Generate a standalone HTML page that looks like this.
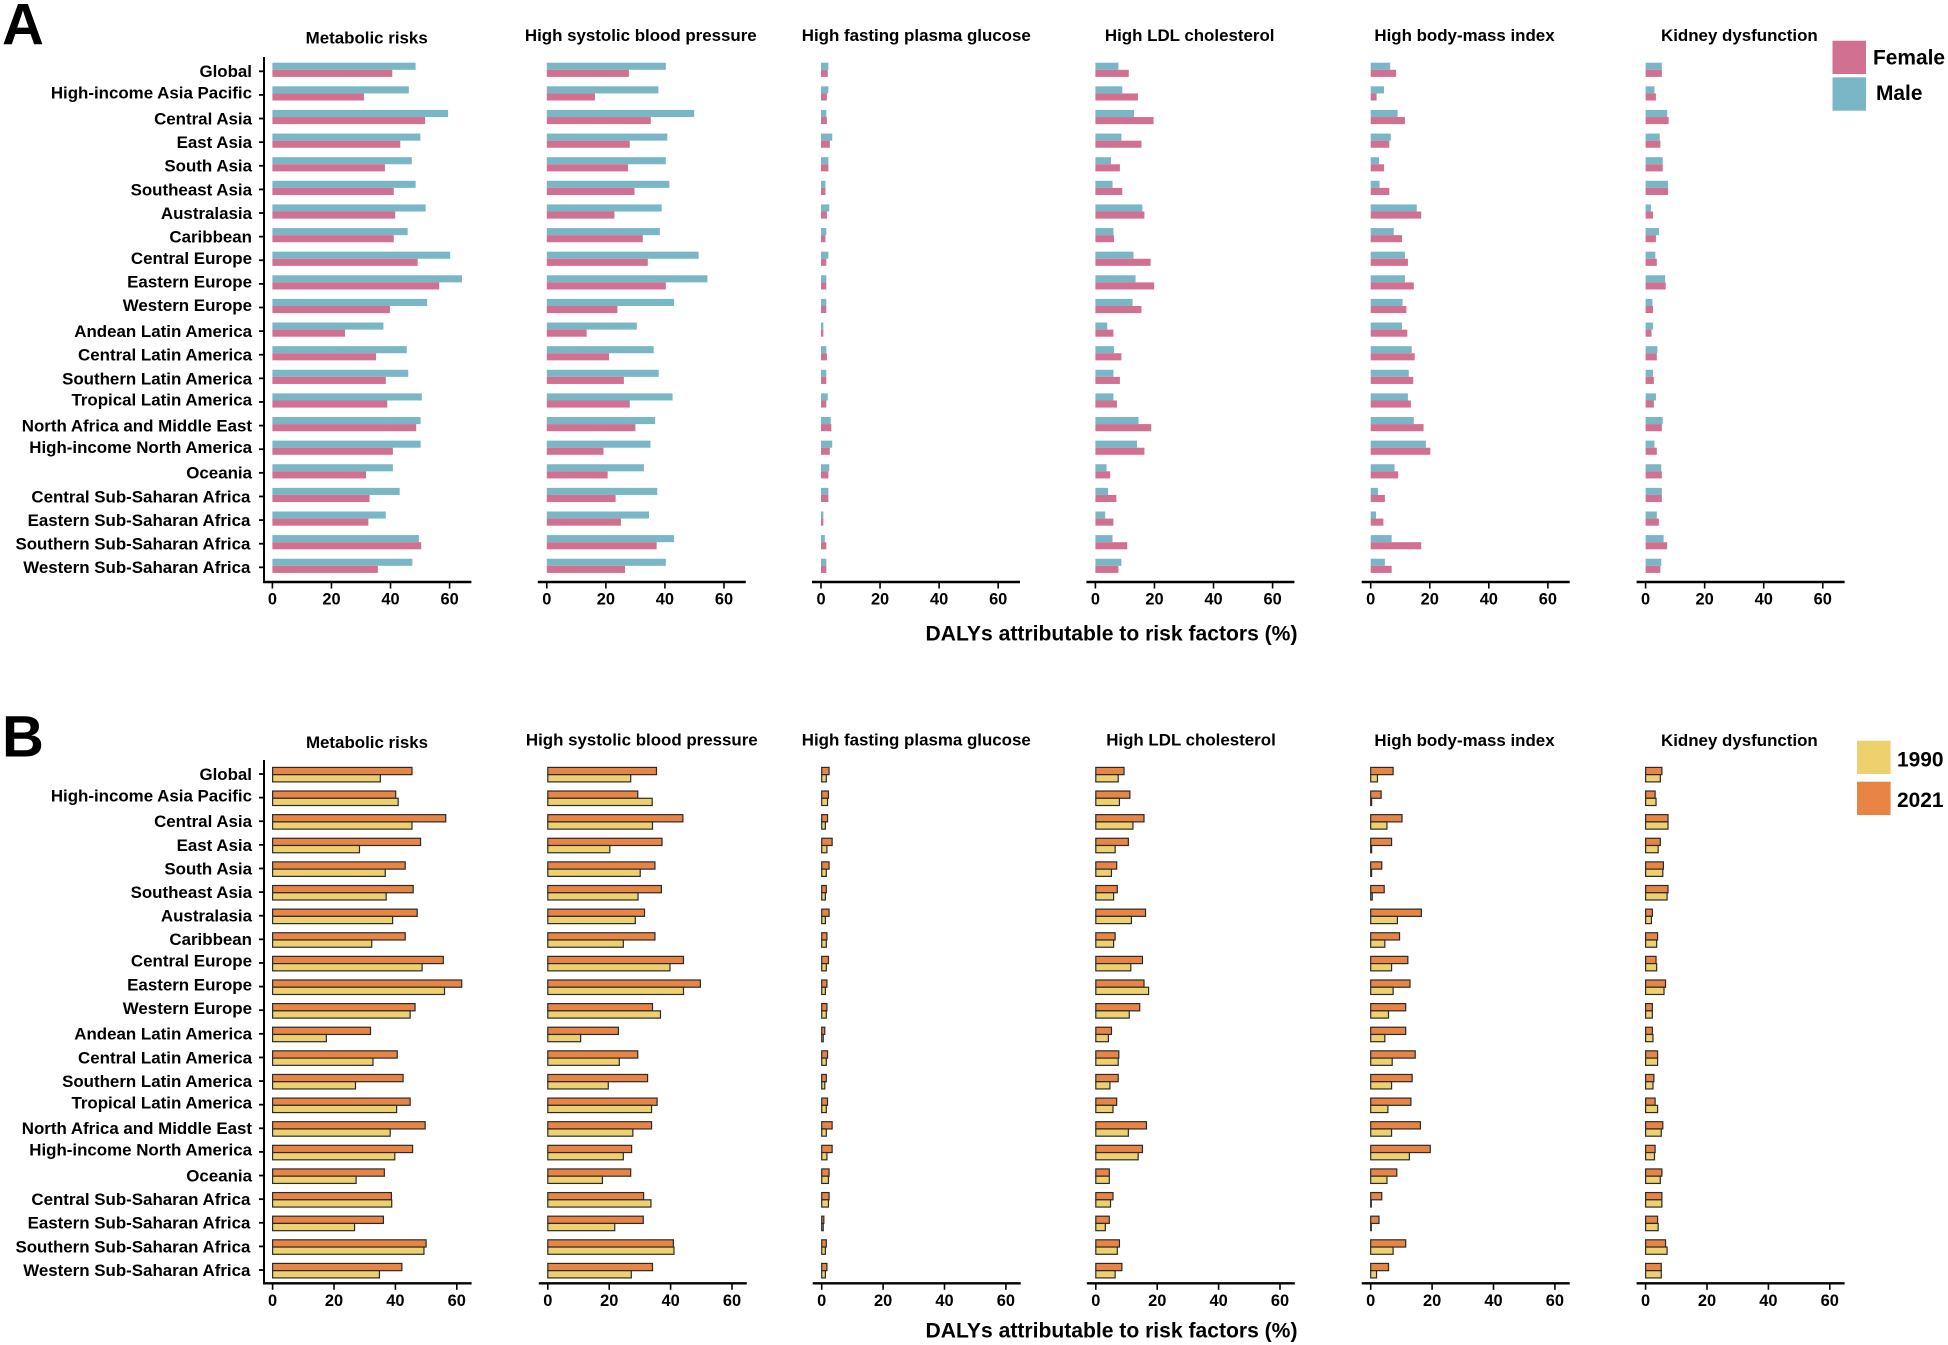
<!DOCTYPE html>
<html lang="en">
<head>
<meta charset="utf-8">
<title>DALYs attributable to risk factors</title>
<style>
html,body{margin:0;padding:0;background:#fff;}
svg{display:block;}
text{font-family:"Liberation Sans",Arial,sans-serif;font-weight:bold;fill:#000;}
.cat,.ptitle{font-size:16.9px;}
.tick{font-size:16.4px;}
.axt{font-size:21.1px;}
.leg{font-size:20.9px;}
.big{font-size:58px;}
</style>
</head>
<body>
<svg id="chart" xmlns="http://www.w3.org/2000/svg" width="1948" height="1345" viewBox="0 0 1948 1345">
  <rect x="0" y="0" width="1948" height="1345" fill="#fff"/>
  <text class="big" x="2" y="44.5">A</text>
  <text class="big" x="2" y="756.7">B</text>

  <g>
    <rect x="1832.5" y="40.7" width="33.5" height="33.3" fill="#D27091"/>
    <text class="leg" x="1873" y="64.3">Female</text>
    <rect x="1832.5" y="77.3" width="33.5" height="33.4" fill="#7AB7C6"/>
    <text class="leg" x="1876" y="100">Male</text>
  </g>
  <g>
    <rect x="1857" y="740.7" width="33.6" height="33.3" fill="#EDD16F"/>
    <text class="leg" x="1897" y="766.5">1990</text>
    <rect x="1857" y="781.7" width="33.6" height="33.3" fill="#E88444"/>
    <text class="leg" x="1897" y="807">2021</text>
  </g>

  <text class="axt" x="1111.5" y="640.6" text-anchor="middle">DALYs attributable to risk factors (%)</text>
  <text class="axt" x="1111.5" y="1337.3" text-anchor="middle">DALYs attributable to risk factors (%)</text>
</svg>

<script>
const categories = ["Global","High-income Asia Pacific","Central Asia","East Asia","South Asia","Southeast Asia","Australasia","Caribbean","Central Europe","Eastern Europe","Western Europe","Andean Latin America","Central Latin America","Southern Latin America","Tropical Latin America","North Africa and Middle East","High-income North America","Oceania","Central Sub-Saharan Africa","Eastern Sub-Saharan Africa","Southern Sub-Saharan Africa","Western Sub-Saharan Africa"];
const riskFactors = ["Metabolic risks","High systolic blood pressure","High fasting plasma glucose","High LDL cholesterol","High body-mass index","Kidney dysfunction"];
const xTickLabels = [0,20,40,60];

/* Panel A: by sex */
const maleMetabolic = [48.5,46.2,59.5,50.1,47.2,48.5,51.9,45.8,60.2,64.2,52.4,37.6,45.5,46,50.6,50.2,50.2,40.8,43.1,38.4,49.6,47.4];
const femaleMetabolic = [40.6,31,51.7,43.3,38.1,41.1,41.6,41.1,49.2,56.5,39.8,24.6,35.1,38.4,38.9,48.7,40.8,31.7,32.9,32.5,50.4,35.7];
const maleSystolic = [40.3,37.8,49.9,40.8,40.3,41.5,38.9,38.3,51.4,54.4,43.1,30.5,36.2,37.9,42.6,36.7,35.1,32.9,37.4,34.6,43.1,40.3];
const femaleSystolic = [27.8,16.3,35.2,28.1,27.5,29.7,22.9,32.5,34.2,40.3,23.9,13.5,21.1,26.1,28.1,30,19.2,20.6,23.3,25.1,37.2,26.5];
const maleGlucose = [2.5,2.5,1.8,3.8,2.5,1.5,2.8,1.8,2.5,1.8,1.8,0.8,1.8,1.8,2.3,3.3,3.8,2.8,2.5,0.8,1.3,1.8];
const femaleGlucose = [2.3,2,2,3,2.5,1.5,2,1.5,1.8,1.8,1.8,0.8,2,1.8,1.8,3.5,3,2.5,2.5,0.8,1.8,1.8];
const maleLdl = [7.8,9.1,13.1,8.8,5.3,5.8,15.9,6.1,12.9,13.6,12.6,4,6.3,6.1,6.1,14.6,14.1,3.8,4.3,3.3,5.8,8.8];
const femaleLdl = [11.3,14.4,19.7,15.6,8.3,9.1,16.6,6.3,18.7,19.9,15.6,6.1,8.8,8.3,7.3,18.9,16.6,5,7.1,6.1,10.8,7.8];
const maleBmi = [6.6,4.5,9.1,6.8,2.8,3,15.6,7.8,11.6,11.6,10.8,10.6,13.9,12.9,12.6,14.6,18.7,8.1,2.5,1.8,7.1,4.8];
const femaleBmi = [8.6,2,11.6,6.3,4.5,6.3,17.1,10.6,12.6,14.6,12.1,12.4,14.9,14.4,13.6,17.9,20.2,9.3,4.8,4.3,17.1,7.1];
const maleKidney = [5.5,3,7.3,4.8,5.8,7.6,1.8,4.5,3.3,6.6,2.3,2.5,4,2.5,3.5,5.8,3,5.3,5.5,3.8,6.1,5.3];
const femaleKidney = [5.5,3.5,7.8,5,5.8,7.6,2.5,3.5,3.8,6.8,2.5,2,3.8,2.8,2.8,5.5,3.8,5.5,5.5,4.5,7.3,5];

/* Panel B: by year */
const y2021Metabolic = [45.4,40.1,56.4,48.2,43.2,45.8,47.1,43.2,55.6,61.6,46.4,31.9,40.6,42.5,44.8,49.7,45.6,36.4,38.7,36.1,50,42.1];
const y1990Metabolic = [35.1,40.9,45.4,28.3,36.7,37,39.1,32.3,48.7,56,44.8,17.5,32.7,27,40.4,38.3,39.8,27.2,38.8,26.7,49.3,34.8];
const y2021Systolic = [35.4,29.3,44,37.2,34.9,37,31.5,34.9,44.2,49.7,34.1,23,29.3,32.5,35.6,33.8,27.3,27,31.2,31.1,40.9,34.1];
const y1990Systolic = [27,34,34.1,20.2,30.1,29.4,28.5,24.6,39.8,44.2,36.7,10.7,23.3,19.7,33.8,27.7,24.6,17.8,33.6,21.8,41.1,27.2];
const y2021Glucose = [2.4,2.2,1.9,3.4,2.4,1.5,2.4,1.7,2.2,1.7,1.7,1,1.9,1.5,1.9,3.4,3.4,2.4,2.4,0.7,1.5,1.7];
const y1990Glucose = [1.5,1.9,1.2,1.7,1.5,1.2,1.2,1.5,1.5,1.2,1.5,0.5,1.5,1,1.5,1.5,1.7,2.2,2.2,0.5,1.2,1.2];
const y2021Ldl = [9.2,11.1,15.7,10.6,6.8,7,16.2,6.3,15.2,15.7,14.3,5.1,7.5,7.3,6.8,16.5,15.2,4.4,5.6,4.4,7.7,8.5];
const y1990Ldl = [7.3,7.7,12.1,6.3,5.1,5.8,11.6,5.8,11.4,17.2,10.9,4.1,7.3,4.6,5.6,10.6,13.8,4.4,4.8,3.1,7,6.3];
const y2021Bmi = [7.3,3.4,10.2,6.8,3.6,4.4,16.5,9.4,12.1,12.8,11.4,11.4,14.5,13.5,13.1,16.2,19.4,8.5,3.6,2.7,11.4,5.8];
const y1990Bmi = [2.2,0.3,5.3,0.3,0.3,0.5,8.7,4.6,6.8,7.3,5.8,4.6,7,6.8,5.6,6.8,12.6,5.3,0.2,0.2,7.3,1.9];
const y2021Kidney = [5.3,3.1,7.3,4.8,5.8,7.3,2.2,3.9,3.4,6.5,2.2,2.2,3.9,2.7,3.1,5.6,3.1,5.3,5.3,3.9,6.5,5.1];
const y1990Kidney = [4.8,3.4,7.3,4.1,5.6,7,1.9,3.6,3.6,6,2.2,2.4,3.9,2.4,3.9,5.1,2.9,4.8,5.3,4.1,7,5.1];

const NS = "http://www.w3.org/2000/svg";
const root = document.getElementById("chart");

function make(tag, parent, attrs, txt) {
  const el = document.createElementNS(NS, tag);
  for (const k in attrs) el.setAttribute(k, attrs[k]);
  if (txt !== undefined) el.textContent = txt;
  parent.appendChild(el);
  return el;
}

function slug(s) {
  return String(s).toLowerCase().replace(/[^a-z0-9]+/g, "-");
}

/* Row labels in the source are centred on their ink, so labels with descenders sit slightly higher. */
function labelBaseline(cat, tick) {
  return tick + 5.9 - (/[gjpqy]/.test(cat) ? 2.2 : 0);
}

function labelRightEdge(cat, right) {
  return right - (/Sub-Saharan/.test(cat) ? 1.6 : 0);
}

function drawFigure(cfg) {
  const fig = make("g", root, {});
  
  

  const rowY = i => cfg.barTop + i * cfg.rowStep;
  const tickY = i => cfg.tickTop + i * cfg.rowStep;

  const yAxis = make("line", fig, {x1: cfg.yAxisX, x2: cfg.yAxisX, y1: cfg.yAxisTop, y2: cfg.axisY + 1, stroke: "#000", "stroke-width": 2});
  
  

  categories.forEach((cat, i) => {
    const tk = make("line", fig, {x1: cfg.yAxisX - 5, x2: cfg.yAxisX, y1: tickY(i), y2: tickY(i), stroke: "#000", "stroke-width": 1.8});
    
    
    const lb = make("text", fig, {class: "cat", x: labelRightEdge(cat, cfg.labelRight), y: labelBaseline(cat, tickY(i)), "text-anchor": "end"}, cat);
    
    
  });

  riskFactors.forEach((rf, p) => {
    const g = make("g", fig, {});
    
    

    const x0 = cfg.origins[p];
    const xScale = v => x0 + v * cfg.pxPerUnit;

    const t = make("text", g, {class: "ptitle", x: cfg.titleX[p], y: cfg.titleY[p], "text-anchor": "middle"}, rf);
    
    

    const upper = cfg.upper[p];
    const lower = cfg.lower[p];
    categories.forEach((cat, i) => {
      const a = make("rect", g, {x: x0, y: rowY(i), width: Math.max(0, xScale(upper[i]) - x0), height: cfg.barH, fill: cfg.upperFill, stroke: cfg.stroke, "stroke-width": cfg.strokeW});
      
      
      const b = make("rect", g, {x: x0, y: rowY(i) + cfg.barH, width: Math.max(0, xScale(lower[i]) - x0), height: cfg.barH, fill: cfg.lowerFill, stroke: cfg.stroke, "stroke-width": cfg.strokeW});
      
      
    });

    const ax = make("line", g, {x1: p === 0 ? cfg.yAxisX - 1 : x0 - 9, x2: x0 + 199, y1: cfg.axisY, y2: cfg.axisY, stroke: "#000", "stroke-width": 2.4});
    
    

    xTickLabels.forEach(v => {
      const tk = make("line", g, {x1: xScale(v), x2: xScale(v), y1: cfg.axisY, y2: cfg.axisY + 6.5, stroke: "#000", "stroke-width": 1.6});
      
      
      const lb = make("text", g, {class: "tick", x: xScale(v), y: cfg.axisY + 22.5, "text-anchor": "middle"}, v);
      
      
    });
  });
}

drawFigure({
  key: "a",
  origins: [272.4, 546.8, 821, 1095.4, 1370.7, 1645.6],
  pxPerUnit: 2.953,
  barTop: 62.7, barH: 7.1, rowStep: 23.62, tickTop: 71.3,
  yAxisX: 264, yAxisTop: 57, axisY: 582, labelRight: 252,
  titleX: [366.7, 640.8, 916.3, 1189.7, 1464.5, 1739.4],
  titleY: [43.4, 40.8, 40.8, 40.8, 40.8, 40.8],
  upper: [maleMetabolic, maleSystolic, maleGlucose, maleLdl, maleBmi, maleKidney],
  lower: [femaleMetabolic, femaleSystolic, femaleGlucose, femaleLdl, femaleBmi, femaleKidney],
  upperFill: "#7AB7C6", lowerFill: "#D27091",
  upperName: "male", lowerName: "female",
  stroke: "none", strokeW: 0
});

drawFigure({
  key: "b",
  origins: [272.6, 547.8, 821.7, 1095.8, 1370.7, 1645.6],
  pxPerUnit: 3.07,
  barTop: 767.4, barH: 7.25, rowStep: 23.62, tickTop: 774,
  yAxisX: 264, yAxisTop: 760, axisY: 1283.3, labelRight: 252,
  titleX: [367, 641.8, 916.3, 1191, 1464.5, 1739.4],
  titleY: [747.9, 745.5, 745.5, 745.7, 745.9, 746.2],
  upper: [y2021Metabolic, y2021Systolic, y2021Glucose, y2021Ldl, y2021Bmi, y2021Kidney],
  lower: [y1990Metabolic, y1990Systolic, y1990Glucose, y1990Ldl, y1990Bmi, y1990Kidney],
  upperFill: "#E88444", lowerFill: "#EDD16F",
  upperName: "2021", lowerName: "1990",
  stroke: "#2b2b2b", strokeW: 1.2
});
</script>
</body>
</html>
